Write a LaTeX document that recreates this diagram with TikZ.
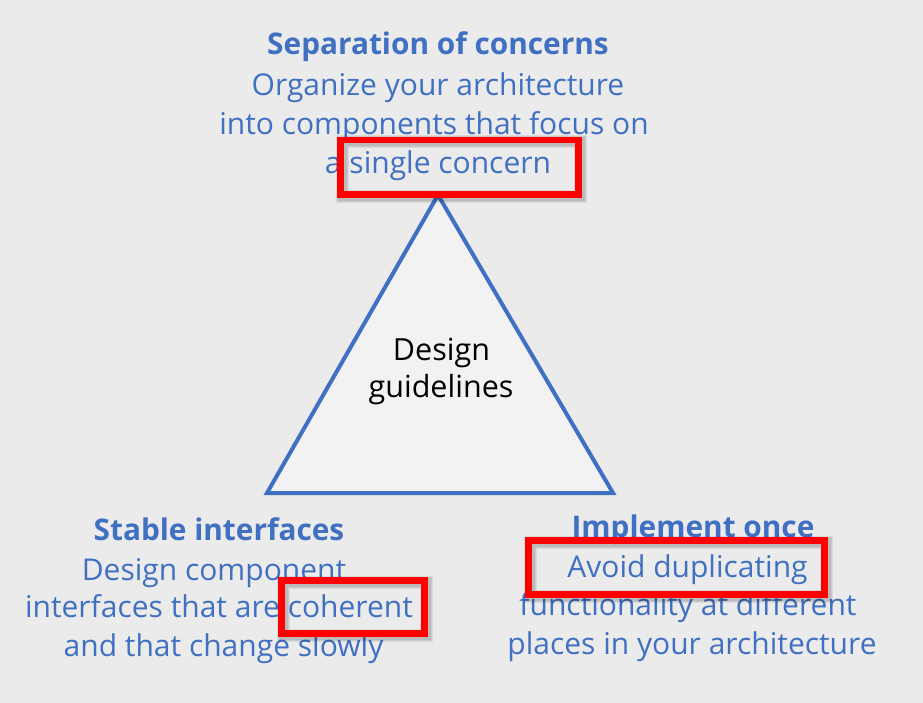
\documentclass[tikz,border=0pt]{standalone}
\usepackage{fontspec}
\setmainfont{Open Sans}
\usetikzlibrary{fit}
\definecolor{bgc}{HTML}{EBEBEB}
\definecolor{trifill}{HTML}{F2F2F2}
\definecolor{bluec}{HTML}{4070C2}
\definecolor{redc}{HTML}{FF0000}
\begin{document}
\begin{tikzpicture}[x=1pt,y=-1pt,
  txt/.style={anchor=base, inner sep=0pt, text=bluec, font=\fontsize{30}{34}\selectfont},
  head/.style={txt, font=\fontsize{29.8}{34}\selectfont\bfseries},
  blk/.style={anchor=base, inner sep=0pt, text=black, font=\fontsize{30.5}{34}\selectfont},
  tri/.style={draw=bluec, fill=trifill, line width=4pt, line join=miter},
  hl/.style={draw=redc, line width=6.5pt, inner sep=0pt, outer sep=0pt},
  shd/.style={draw=black, opacity=0.07, line width=#1},
]
% background
\fill[bgc] (0,0) rectangle (923,703);
% triangle
\coordinate (apex) at (438,195);
\coordinate (bl) at (267,493);
\coordinate (br) at (613,493);
\draw[tri] (apex) -- (br) -- (bl) -- cycle;
\node[blk] (dg1) at (441.5,360) {Design};
\node[blk] (dg2) at (441,397) {guidelines};
% top block
\node[head] (t1) at (438,55) {Separation of concerns};
\node[txt] (t2) at (438,96) {Organize your architecture};
\node[txt] (t3) at (434,135) {into components that focus on};
\node[txt] (t4) at (438,174) {a single concern};
% bottom left block
\node[head] (l1) at (219,540) {Stable interfaces};
\node[txt] (l2) at (214,580) {Design component};
\node[txt] (l3) at (219,617) {interfaces that are coherent};
\node[txt] (l4) at (223.5,656) {and that change slowly};
% bottom right block
\node[head] (r1) at (693,537) {Implement once};
\node[txt] (r2) at (687.5,577) {Avoid duplicating};
\node[txt] (r3) at (688,615) {functionality at different};
\node[txt] (r4) at (692,654) {places in your architecture};
% highlight boxes
\foreach \nm/\xa/\ya/\xb/\yb in {hA/340.5/140/578.5/194.5, hB/281.5/580.5/424.5/633.5, hC/528.5/540.5/824.5/594.5}{
  \foreach \w in {13,11,9}{
    \draw[shd=\w pt] (\xa+1.5,\ya+2) rectangle (\xb+1.5,\yb+2);
  }
  \node[hl, fit={(\xa,\ya) (\xb,\yb)}] (\nm) {};
}
\end{tikzpicture}
\end{document}
